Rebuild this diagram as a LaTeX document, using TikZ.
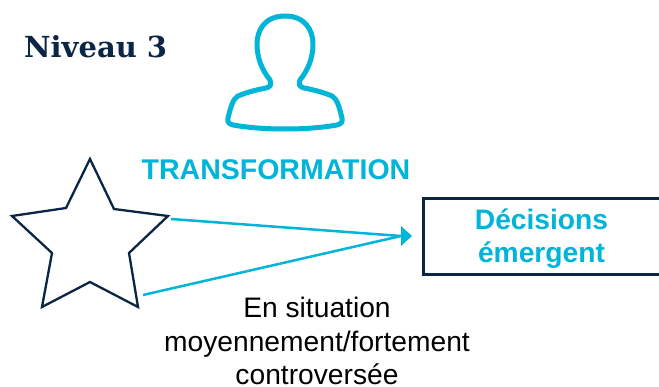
\documentclass[tikz,border=0pt]{standalone}
\usepackage{fontspec}
\setmainfont{Liberation Sans}
\newfontfamily\slabfont{DejaVu Serif}
\usetikzlibrary{arrows.meta}
\definecolor{teal1}{HTML}{00B5D8}
\definecolor{navy1}{HTML}{0B2545}
\tikzset{
  x=1pt,y=-1pt,
  tealtext/.style={text=teal1,font=\fontsize{28.5}{34}\selectfont\bfseries,align=center,inner sep=0pt},
  blacktext/.style={text=black,font=\fontsize{28.2}{33.5}\selectfont,align=center,inner sep=0pt},
  flow/.style={draw=teal1,line width=2.5pt},
  outline/.style={draw=navy1,line width=2.3pt,line join=miter},
}
\begin{document}
\begin{tikzpicture}
\useasboundingbox (0,0) rectangle (659,387);
\fill[white] (0,0) rectangle (659,387);
\node[anchor=base west,inner sep=0pt,text=navy1,font=\slabfont\fontsize{29}{33}\selectfont\bfseries] (title) at (24,58) {Niveau 3};
% person
\draw[draw=teal1,line width=5pt,line join=round]
  (285,16) .. controls (305,16) and (313,30) .. (313,44)
  .. controls (313,58) and (308,70) .. (300,80)
  .. controls (298,85) and (300,87) .. (304,88)
  .. controls (315,90) and (325,93) .. (332,96)
  .. controls (337,99) and (339,106) .. (342,118)
  .. controls (343,122) and (341,124) .. (337,125)
  .. controls (320,128) and (302,129) .. (285,129)
  .. controls (268,129) and (250,128) .. (233,125)
  .. controls (229,124) and (227,122) .. (228,118)
  .. controls (231,106) and (233,99) .. (238,96)
  .. controls (245,93) and (255,90) .. (266,88)
  .. controls (270,87) and (272,85) .. (270,80)
  .. controls (262,70) and (257,58) .. (257,44)
  .. controls (257,30) and (265,16) .. (285,16) -- cycle;
\node[tealtext] (transf) at (276,170) {TRANSFORMATION};
% star
\draw[outline] (90,159) -- (114,209) -- (168,216) -- (129,253) -- (138,307) -- (90,282) -- (42,307) -- (52,253) -- (12,216) -- (66,208) -- cycle;
\coordinate (s1) at (171,219);
\coordinate (s2) at (143,295);
\coordinate (tip) at (412,236);
\coordinate (base) at (401,236);
\draw[flow] (s1) -- (base);
\draw[flow] (s2) -- (base);
\fill[teal1] (tip) -- (401,226) -- (401,246) -- cycle;
% box
\draw[draw=navy1,line width=3pt] (423,198.5) rectangle (670,275);
\node[tealtext,font=\fontsize{28.2}{33}\selectfont\bfseries] (dec) at (541.5,239) {Décisions\\émergent};
\node[blacktext] (sit) at (317,341) {En situation\\moyennement/fortement\\controversée};
\end{tikzpicture}
\end{document}
